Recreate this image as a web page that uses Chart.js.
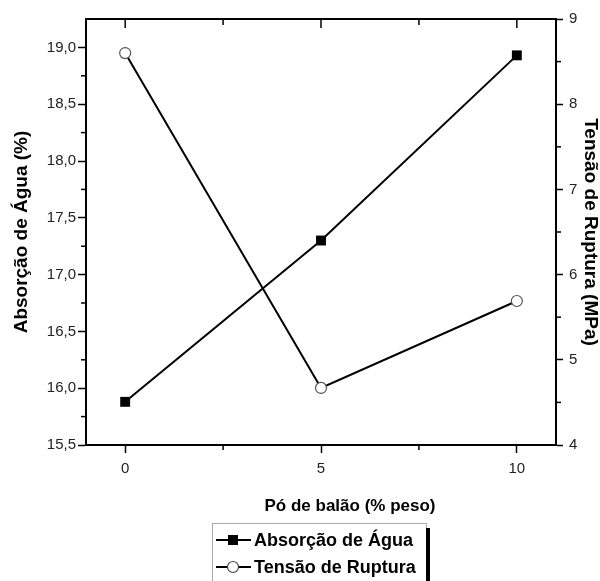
<!DOCTYPE html>
<html>
<head>
<meta charset="utf-8">
<script src="https://cdn.jsdelivr.net/npm/chart.js@4.4.0/dist/chart.umd.min.js"></script>
<style>
  html, body { margin: 0; padding: 0; background: #fff; }
</style>
</head>
<body>
<canvas id="chart" width="600" height="581"></canvas>
<script>
const poBalao = [0, 5, 10];
const absorcaoAgua = [15.88, 17.30, 18.93];
const tensaoRuptura = [8.60, 4.67, 5.69];
const seriesNames = ["Absorção de Água", "Tensão de Ruptura"];
const xTitle = "Pó de balão (% peso)";
const yLeftTitle = "Absorção de Água (%)";
const yRightTitle = "Tensão de Ruptura (MPa)";

const FONT = '"Liberation Sans", Arial, sans-serif';

const toPoints = (ys) => poBalao.map((x, i) => ({ x: x, y: ys[i] }));

// frame, minor ticks, x title and the boxed legend
const extras = {
  id: "extras",
  afterDraw(chart) {
    const { ctx, chartArea: a, scales } = chart;
    ctx.save();
    ctx.strokeStyle = "#000";
    ctx.lineWidth = 2;
    ctx.beginPath();
    ctx.moveTo(a.left - 1, a.top);
    ctx.lineTo(a.right + 1, a.top);
    ctx.stroke();

    ctx.lineWidth = 1.5;
    const tick = (x1, y1, x2, y2) => {
      ctx.beginPath();
      ctx.moveTo(x1, y1);
      ctx.lineTo(x2, y2);
      ctx.stroke();
    };
    for (let v = 0; v <= 10; v += 2.5) {
      const px = scales.x.getPixelForValue(v);
      tick(px, a.top, px, a.top + (v % 5 === 0 ? 9 : 6));
    }
    for (const v of [2.5, 7.5]) {
      const px = scales.x.getPixelForValue(v);
      tick(px, a.bottom, px, a.bottom + 5);
    }
    for (let v = 15.75; v < 19.2; v += 0.5) {
      const py = scales.y.getPixelForValue(v);
      tick(a.left, py, a.left - 5, py);
    }
    for (let v = 4.5; v < 9; v += 1) {
      const py = scales.y1.getPixelForValue(v);
      tick(a.right, py, a.right + 5, py);
    }

    // x axis title
    ctx.fillStyle = "#000";
    ctx.font = "bold 17px " + FONT;
    ctx.textAlign = "center";
    ctx.textBaseline = "middle";
    ctx.fillText(xTitle, 350, 506);

    // legend box
    ctx.strokeStyle = "#aaa";
    ctx.lineWidth = 1;
    ctx.strokeRect(212.5, 523.5, 214, 70);
    ctx.fillStyle = "#000";
    ctx.fillRect(426, 528, 4, 60);

    const rows = [540, 567];
    ctx.font = "bold 18px " + FONT;
    ctx.textAlign = "left";
    rows.forEach((y, i) => {
      ctx.strokeStyle = "#000";
      ctx.lineWidth = 2;
      tick(216, y, 251, y);
      if (i === 0) {
        ctx.fillStyle = "#000";
        ctx.fillRect(228, y - 5, 10, 10);
      } else {
        ctx.fillStyle = "#fff";
        ctx.strokeStyle = "#444";
        ctx.lineWidth = 1.2;
        ctx.beginPath();
        ctx.arc(233, y, 5.5, 0, Math.PI * 2);
        ctx.fill();
        ctx.stroke();
      }
      ctx.fillStyle = "#000";
      ctx.fillText(seriesNames[i], 254, y + 1);
    });
    ctx.restore();
  }
};

const tickFont = { family: FONT, size: 15 };
const titleFont = { family: FONT, size: 19, weight: "bold", lineHeight: 1 };

new Chart(document.getElementById("chart"), {
  type: "line",
  data: {
    datasets: [
      {
        label: seriesNames[0],
        data: toPoints(absorcaoAgua),
        yAxisID: "y",
        borderColor: "#000",
        backgroundColor: "#000",
        borderWidth: 2,
        pointStyle: "rect",
        pointRadius: 7,
        pointBorderWidth: 0,
        tension: 0
      },
      {
        label: seriesNames[1],
        data: toPoints(tensaoRuptura),
        yAxisID: "y1",
        borderColor: "#000",
        backgroundColor: "#fff",
        pointBorderColor: "#555",
        borderWidth: 2,
        pointStyle: "circle",
        pointRadius: 5.5,
        pointBorderWidth: 1.2,
        tension: 0
      }
    ]
  },
  options: {
    responsive: false,
    animation: false,
    devicePixelRatio: 1,
    layout: { padding: { top: 19, left: 0, right: 0, bottom: 0 } },
    plugins: {
      legend: { display: false },
      tooltip: { enabled: false }
    },
    scales: {
      x: {
        type: "linear",
        min: -1,
        max: 11,
        afterFit(s) { s.height = 136; },
        ticks: {
          stepSize: 5,
          includeBounds: false,
          padding: 7,
          color: "#222",
          font: tickFont
        },
        grid: {
          drawOnChartArea: false,
          tickLength: 8,
          tickColor: "#000",
          tickWidth: 1.5
        },
        border: { color: "#000", width: 2 }
      },
      y: {
        position: "left",
        min: 15.5,
        max: 19.25,
        afterFit(s) { s.width = 86; },
        ticks: {
          stepSize: 0.5,
          includeBounds: false,
          padding: 2,
          color: "#222",
          font: tickFont,
          callback: (v) => v.toFixed(1).replace(".", ",")
        },
        grid: {
          drawOnChartArea: false,
          tickLength: 8,
          tickColor: "#000",
          tickWidth: 1.5
        },
        border: { color: "#000", width: 2 },
        title: {
          display: true,
          text: yLeftTitle,
          color: "#000",
          font: titleFont,
          padding: { top: 12, bottom: 0 }
        }
      },
      y1: {
        position: "right",
        min: 4,
        max: 9,
        afterFit(s) { s.width = 44; },
        ticks: {
          stepSize: 1,
          padding: 6,
          color: "#222",
          font: tickFont
        },
        grid: {
          drawOnChartArea: false,
          tickLength: 7,
          tickColor: "#000",
          tickWidth: 1.5
        },
        border: { color: "#000", width: 2 },
        title: {
          display: true,
          text: yRightTitle,
          color: "#000",
          font: titleFont,
          padding: { top: 0, bottom: 0 }
        }
      }
    }
  },
  plugins: [extras]
});
</script>
</body>
</html>
